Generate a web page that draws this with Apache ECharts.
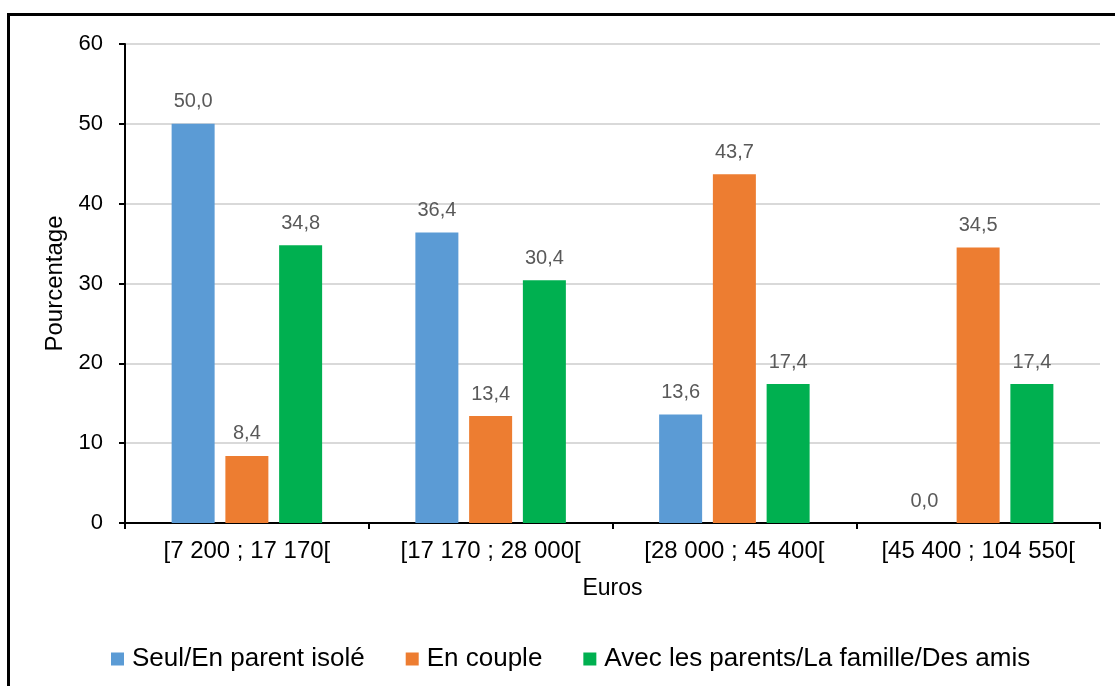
<!DOCTYPE html>
<html>
<head>
<meta charset="utf-8">
<script src="https://cdn.jsdelivr.net/npm/echarts@6/dist/echarts.min.js"></script>
<style>
  html, body { margin: 0; padding: 0; background: #fff; }
  #chart { width: 1115px; height: 686px; }
</style>
</head>
<body>
<div id="chart"></div>
<script>
// tranches de revenu
const categories = ['[7 200 ; 17 170[', '[17 170 ; 28 000[', '[28 000 ; 45 400[', '[45 400 ; 104 550[']
const seriesNames = ['Seul/En parent isolé', 'En couple', 'Avec les parents/La famille/Des amis']
const seul = [50.0, 36.4, 13.6, 0.0]
const couple = [8.4, 13.4, 43.7, 34.5]
const famille = [34.8, 30.4, 17.4, 17.4]
const yTicks = [0, 10, 20, 30, 40, 50, 60]

const colors = ['#5B9BD5', '#ED7D31', '#00B050']
const font = '"Liberation Sans", Arial, sans-serif'

const chart = echarts.init(document.getElementById('chart'))

const makeSeries = (name, data, i) => ({
  name,
  type: 'bar',
  data,
  barWidth: 43,
  barGap: '25%',
  itemStyle: { color: colors[i] },
  label: {
    show: true,
    position: 'top',
    distance: 12,
    color: '#595959',
    fontFamily: font,
    fontSize: 20,
    formatter: p => p.value.toFixed(1).replace('.', ',')
  }
})

chart.setOption({
  animation: false,
  color: colors,
  graphic: [{
    type: 'rect',
    shape: { x: 8.5, y: 14.5, width: 1200, height: 800 },
    style: { fill: 'none', stroke: '#000', lineWidth: 3 },
    silent: true
  }],
  grid: { left: 125, right: 15, top: 44, bottom: 163 },
  legend: {
    left: 106,
    top: 641,
    itemWidth: 13,
    itemHeight: 13,
    itemGap: 41,
    icon: 'rect',
    textStyle: { fontFamily: font, fontSize: 26, color: '#000', padding: [0, 0, 0, 3] },
    data: seriesNames
  },
  xAxis: {
    type: 'category',
    data: categories,
    name: 'Euros',
    nameLocation: 'middle',
    nameGap: 54,
    nameTextStyle: { fontFamily: font, fontSize: 23, color: '#000' },
    axisLine: { lineStyle: { color: '#000', width: 2 } },
    axisTick: { show: true, interval: 0, length: 6, lineStyle: { color: '#000', width: 2 } },
    axisLabel: { interval: 0, hideOverlap: false, fontFamily: font, fontSize: 24, color: '#000', margin: 16 }
  },
  yAxis: {
    type: 'value',
    min: yTicks[0],
    max: yTicks[yTicks.length - 1],
    interval: 10,
    name: 'Pourcentage',
    nameLocation: 'middle',
    nameGap: 57,
    nameTextStyle: { fontFamily: font, fontSize: 24, color: '#000' },
    axisLine: { show: true, lineStyle: { color: '#000', width: 2 } },
    axisTick: { show: true, length: 6, lineStyle: { color: '#000', width: 2 } },
    axisLabel: { fontFamily: font, fontSize: 22, color: '#000', margin: 22 },
    splitLine: { lineStyle: { color: '#D9D9D9', width: 2 } }
  },
  series: [
    makeSeries(seriesNames[0], seul, 0),
    makeSeries(seriesNames[1], couple, 1),
    makeSeries(seriesNames[2], famille, 2)
  ]
})
</script>
</body>
</html>
